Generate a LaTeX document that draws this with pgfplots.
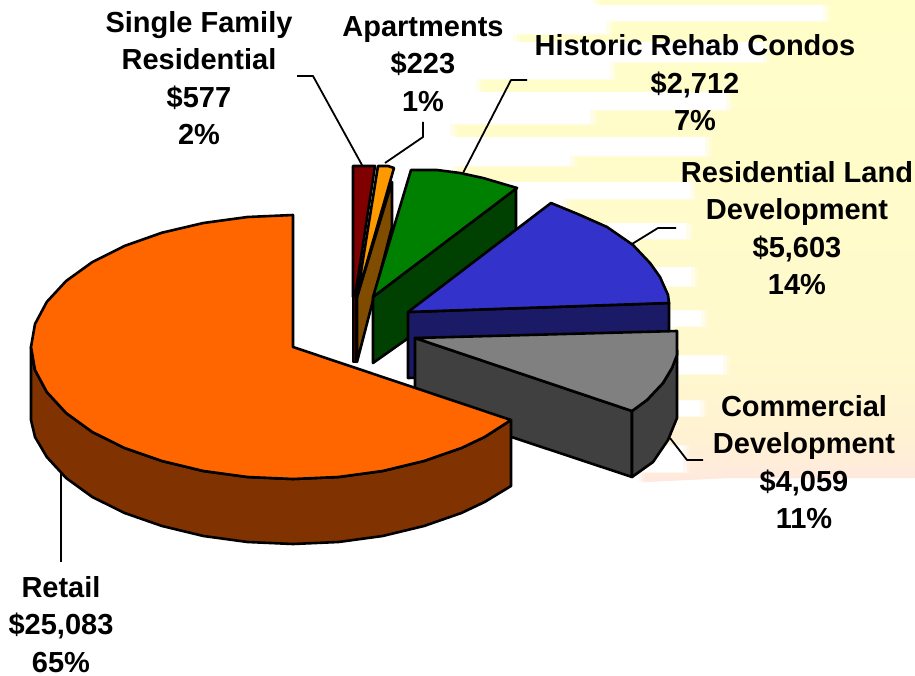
\documentclass[border=0pt]{standalone}
\usepackage{fontspec}
\setmainfont{Liberation Sans}
\usepackage{pgfplots}
\usepackage{pgfplotstable}
\pgfplotsset{compat=1.18}
\definecolor{bgtop}{RGB}{255,254,200}
\definecolor{bgmid}{RGB}{255,249,205}
\definecolor{bglow}{RGB}{255,241,212}
\definecolor{bgbot}{RGB}{255,232,222}
\definecolor{sfTop}{RGB}{128,0,0}
\definecolor{sfSide}{RGB}{64,0,0}
\definecolor{apTop}{RGB}{255,153,0}
\definecolor{apSide}{RGB}{128,77,0}
\definecolor{hrTop}{RGB}{0,128,0}
\definecolor{hrSide}{RGB}{0,64,0}
\definecolor{rlTop}{RGB}{51,51,204}
\definecolor{rlSide}{RGB}{26,26,102}
\definecolor{cdTop}{RGB}{128,128,128}
\definecolor{cdSide}{RGB}{64,64,64}
\definecolor{reTop}{RGB}{255,102,0}
\definecolor{reSide}{RGB}{128,51,0}
\pgfdeclareverticalshading{bgfade}{100bp}{color(0bp)=(bgbot); color(25bp)=(bgbot); color(29bp)=(bglow); color(38bp)=(bgmid); color(75bp)=(bgtop); color(100bp)=(bgtop)}
\pgfplotstableread{
x y
915 0
915 478
730 478
645 482
645 473
690 473
690 445
670 445
670 417
707 417
707 400
678 400
678 375
730 375
730 355
677 355
677 327
708 327
708 310
670 310
670 287
698 287
698 267
640 267
640 240
693 240
693 223
570 223
570 200
697 200
697 182
460 182
460 167
577 167
577 157
712 157
712 137
457 137
457 125
597 125
597 111
733 111
733 92
483 92
483 80
617 80
617 63
770 63
770 42
520 42
520 35
613 35
613 22
830 22
830 5
600 5
600 0
}\bgsteps
\begin{document}
\begin{tikzpicture}[lbl/.style={align=center, font=\fontsize{29}{37.5}\selectfont\bfseries, inner sep=0pt}]
\begin{axis}[
    width=915pt, height=676pt,
    scale only axis,
    xmin=0, xmax=915, ymin=0, ymax=676,
    y dir=reverse,
    hide axis,
    every axis plot/.append style={line width=2.6pt, line join=round, no markers},
]
% page
\addplot[draw=none, fill=white] coordinates {(0,0) (915,0) (915,676) (0,676)} -- cycle;
% background streaks, soft edge first
\addplot[draw=none, shading=bgfade, opacity=0.4, xshift=-7pt, yshift=1pt] table {\bgsteps} -- cycle;
\addplot[draw=none, shading=bgfade, opacity=0.6, xshift=-3pt] table {\bgsteps} -- cycle;
\addplot[draw=none, shading=bgfade] table {\bgsteps} -- cycle;
% leader lines
\addplot[black, line width=1.8pt] coordinates {(297,76) (313,76) (362,165)};
\addplot[black, line width=1.8pt] coordinates {(423,122) (423,137) (385,163)};
\addplot[black, line width=1.8pt] coordinates {(527,80) (511,80) (463,173)};
\addplot[black, line width=1.8pt] coordinates {(676,228) (658,228) (632,244)};
\addplot[black, line width=1.8pt] coordinates {(703,460) (687,460) (670,438)};
\addplot[black, line width=1.8pt] coordinates {(61,562) (61,470)};
% single family
\addplot[draw=black, fill=sfSide] coordinates {(353,290) (356,290) (356,362) (353,362)} -- cycle;
\addplot[draw=black, fill=sfTop] coordinates {(353,166) (375,166) (356,290) (353,297)} -- cycle;
% apartments
\addplot[draw=black, fill=apSide] coordinates {(392,182) (392,227) (357,362) (357,297)} -- cycle;
\addplot[draw=black, fill=apTop] coordinates {(378,166) (388,166) (394,168) (357,297)} -- cycle;
% historic rehab condos
\addplot[draw=black, fill=hrSide] coordinates {(373,297) (516,188) (516,262) (373,363)} -- cycle;
\addplot[draw=black, fill=hrTop] coordinates {
    (373,297) (411,170) (437,170) (460,173) (483,178) (517,188)} -- cycle;
% residential land development
\addplot[draw=black, fill=rlSide] coordinates {(408,312) (669,303) (669,370) (408,378)} -- cycle;
\addplot[draw=black, fill=rlTop] coordinates {
    (408,312) (551,203) (580,215) (607,227) (633,245) (650,263) (660,277) (668,295) (669,303)} -- cycle;
% commercial development
\addplot[draw=black, fill=cdSide] coordinates {(415,338) (632,411) (632,477) (415,405)} -- cycle;
\addplot[draw=black, fill=cdSide] coordinates {
    (632,411) (647,400) (663,383) (672,368) (677,350) (677,418) (668,440) (653,462) (632,477)} -- cycle;
\addplot[draw=black, fill=cdTop] coordinates {
    (415,338) (677,331) (677,355) (672,368) (663,383) (647,400) (632,411)} -- cycle;
% retail
\addplot[draw=black, fill=reSide] coordinates {
    (31,347) (35,370) (46.8,392) (66.1,413) (92.3,432) (124.6,448) (162,461) (203.4,471)
    (247.5,477) (293,479) (338.5,477) (382.6,471) (424,461) (461.4,448) (484.6,437) (511,420)
    (511,486) (484.6,502) (461.4,513) (424,526) (382.6,536) (338.5,542) (293,544) (247.5,542)
    (203.4,536) (162,526) (124.6,513) (92.3,497) (66.1,478) (46.8,457) (35,437) (31,420)} -- cycle;
\addplot[draw=black, fill=reTop] coordinates {
    (293,347) (293,215) (247.5,217) (203.4,223) (162,232.7) (124.6,245.9) (92.3,262.1) (66.1,281)
    (46.8,301.9) (35,324) (31,347) (35,370) (46.8,392) (66.1,413) (92.3,432) (124.6,448) (162,461)
    (203.4,471) (247.5,477) (293,479) (338.5,477) (382.6,471) (424,461) (461.4,448) (484.6,437) (511,420)} -- cycle;
% labels
\node[lbl] at (axis cs:199,78) {Single Family\\Residential\\\$577\\2\%};
\node[lbl] at (axis cs:423,64) {Apartments\\\$223\\1\%};
\node[lbl] at (axis cs:695,83) {Historic Rehab Condos\\\$2,712\\7\%};
\node[lbl] at (axis cs:797,228) {Residential Land\\Development\\\$5,603\\14\%};
\node[lbl] at (axis cs:804,462) {Commercial\\Development\\\$4,059\\11\%};
\node[lbl] at (axis cs:61,624.5) {Retail\\\$25,083\\65\%};
\end{axis}
\end{tikzpicture}
\end{document}
